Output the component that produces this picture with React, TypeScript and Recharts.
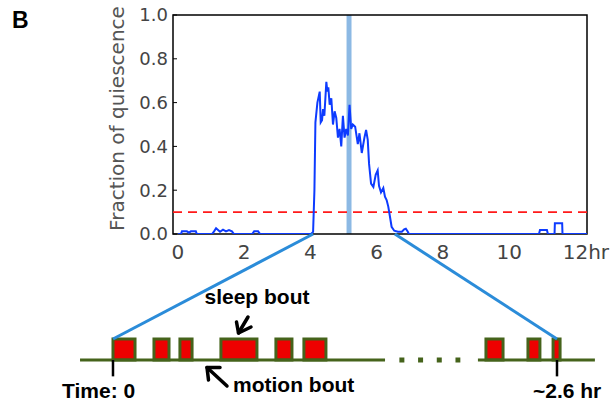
import React from 'react';
import { ComposedChart, Line, XAxis, YAxis, ReferenceArea, ReferenceLine } from 'recharts';

// top panel: fraction of quiescence over 12 hr
const hours = [
  0, 0.09, 0.12, 0.27, 0.33, 0.39, 0.54, 0.57,
  1.03, 1.09, 1.15, 1.21, 1.27, 1.36, 1.45, 1.54, 1.63, 1.69,
  2.24, 2.3, 2.42, 2.48,
  4.02, 4.08, 4.12, 4.15, 4.21, 4.28, 4.31, 4.35, 4.38, 4.42,
  4.48, 4.51, 4.54, 4.58, 4.63, 4.68, 4.73, 4.78, 4.83, 4.88,
  4.93, 4.98, 5.03, 5.08, 5.13, 5.18, 5.23, 5.28, 5.35, 5.43,
  5.48, 5.55, 5.63, 5.68, 5.73, 5.77, 5.83, 5.9, 5.97, 6.03,
  6.07, 6.13, 6.2, 6.25, 6.3, 6.35, 6.4, 6.45, 6.53, 6.64,
  6.76, 6.83, 6.88, 6.94, 6.97,
  10.9, 10.93, 11.14, 11.17, 11.37, 11.38, 11.6, 11.61, 12.35,
];
const fraction = [
  0, 0, 0.012, 0.012, 0.006, 0.012, 0.012, 0,
  0, 0.012, 0.026, 0.018, 0.01, 0.02, 0.012, 0.018, 0.012, 0,
  0, 0.012, 0.012, 0,
  0, 0.01, 0.2, 0.51, 0.6, 0.65, 0.51, 0.52, 0.57, 0.54,
  0.695, 0.65, 0.67, 0.59, 0.62, 0.5, 0.56, 0.53, 0.44, 0.48,
  0.4, 0.54, 0.44, 0.48, 0.45, 0.59, 0.48, 0.5, 0.49, 0.41,
  0.46, 0.37, 0.44, 0.475, 0.43, 0.32, 0.23, 0.215, 0.27, 0.29,
  0.22, 0.19, 0.21, 0.17, 0.155, 0.125, 0.08, 0.033, 0.015, 0.01,
  0.01, 0.021, 0.024, 0.01, 0,
  0, 0.018, 0.018, 0, 0, 0.049, 0.049, 0, 0,
];
const xTicks = [0, 2, 4, 6, 8, 10, 12];
const yTicks = [0, 0.2, 0.4, 0.6, 0.8, 1.0];
const threshold = 0.1;
const marker = [5.09, 5.24];
const zoomWindow = [4.08, 6.55];

// bottom schematic: bouts within the zoomed ~2.6 hr
const boutStart = [0, 0.24, 0.392, 0.632, 0.954, 1.118, 2.184, 2.43, 2.577];
const boutEnd = [0.129, 0.328, 0.463, 0.843, 1.048, 1.247, 2.284, 2.5, 2.618];
const motionSegments = [[-0.193, 1.593], [2.137, 2.822]];
const gapDots = [1.677, 2.034];
const diagramSpan = 2.6;

const series = hours.map((t, i) => ({ t, q: fraction[i] }));

const MAIN_X: [number, number] = [-0.15, 12.35];
const MAIN_Y: [number, number] = [0, 1];
// virtual axes of the schematic, spanning the same pixels as the main axes
const DIAG_X: [number, number] = [0.3514, 2.7757];
const DIAG_Y: [number, number] = [6, 16.43];

const dx = (t: number) =>
  MAIN_X[0] + ((t - DIAG_X[0]) * (MAIN_X[1] - MAIN_X[0])) / (DIAG_X[1] - DIAG_X[0]);
const dy = (l: number) =>
  MAIN_Y[0] + ((l - DIAG_Y[0]) * (MAIN_Y[1] - MAIN_Y[0])) / (DIAG_Y[1] - DIAG_Y[0]);

const GREEN = '#45631b';
const LINK = '#2b8cd9';

const XTick = (props: any) => {
  const { x, y, payload } = props;
  const isLast = payload.value === 12;
  return (
    <text
      x={isLast ? x - 12.7 : x}
      y={y}
      dy={15}
      textAnchor={isLast ? 'start' : 'middle'}
      fill="#444"
      fontSize={20}
      fontFamily="DejaVu Sans"
    >
      {isLast ? '12hr' : payload.value}
    </text>
  );
};

const boldText = { fontFamily: 'Liberation Sans, Arial', fontWeight: 700, fontSize: 21, fill: '#000' };

const App: React.FC = () => {
  return (
    <div style={{ position: 'absolute', left: 0, top: 0, width: 616, height: 407, background: '#fff' }}>
      <ComposedChart width={616} height={407} data={series} margin={{ top: 15, right: 29, bottom: 143, left: 0 }}>
        <XAxis
          dataKey="t"
          type="number"
          domain={MAIN_X}
          allowDataOverflow
          ticks={xTicks}
          tick={<XTick />}
          tickLine={false}
          axisLine={false}
          tickSize={0}
          tickMargin={10}
          height={30}
          interval={0}
        />
        <YAxis
          type="number"
          domain={MAIN_Y}
          allowDataOverflow
          ticks={yTicks}
          interval={0}
          width={173}
          tickFormatter={(v: number) => v.toFixed(1)}
          tick={{ fill: '#444', fontSize: 18, fontFamily: 'DejaVu Sans' }}
          tickSize={-4}
          tickMargin={9}
          tickLine={{ stroke: '#000' }}
          axisLine={false}
        />

        <ReferenceArea x1={marker[0]} x2={marker[1]} fill="#8cb9e4" fillOpacity={1} stroke="none" />
        <ReferenceLine y={threshold} stroke="#ff1a1a" strokeWidth={1.8} strokeDasharray="9 6" />
        <Line
          type="linear"
          dataKey="q"
          stroke="#0d3bff"
          strokeWidth={2}
          dot={false}
          isAnimationActive={false}
        />
        <ReferenceArea
          x1={MAIN_X[0]}
          x2={MAIN_X[1]}
          y1={MAIN_Y[0]}
          y2={MAIN_Y[1]}
          fill="none"
          stroke="#000"
          strokeWidth={1.5}
          ifOverflow="visible"
        />

        {/* zoom links */}
        <ReferenceLine
          segment={[
            { x: zoomWindow[0], y: 0 },
            { x: dx(0), y: dy(1) },
          ]}
          stroke={LINK}
          strokeWidth={3}
          ifOverflow="visible"
        />
        <ReferenceLine
          segment={[
            { x: zoomWindow[1], y: 0 },
            { x: dx(diagramSpan), y: dy(1) },
          ]}
          stroke={LINK}
          strokeWidth={3}
          ifOverflow="visible"
        />

        {/* schematic */}
        {motionSegments.map(([a, b], i) => (
          <ReferenceLine
            key={`m${i}`}
            segment={[{ x: dx(a), y: dy(0) }, { x: dx(b), y: dy(0) }]}
            stroke={GREEN}
            strokeWidth={3}
            ifOverflow="visible"
          />
        ))}
        <ReferenceLine
          segment={[{ x: dx(gapDots[0]), y: dy(0) }, { x: dx(gapDots[1]), y: dy(0) }]}
          stroke={GREEN}
          strokeWidth={5}
          strokeDasharray="5 13.7"
          ifOverflow="visible"
        />
        {boutStart.map((s, i) => (
          <ReferenceArea
            key={`b${i}`}
            x1={dx(s)}
            x2={dx(boutEnd[i])}
            y1={dy(0)}
            y2={dy(1)}
            fill="#ee0000"
            fillOpacity={1}
            stroke={GREEN}
            strokeWidth={3}
            ifOverflow="visible"
          />
        ))}
        {[0, diagramSpan].map((t) => (
          <ReferenceLine
            key={`t${t}`}
            segment={[{ x: dx(t), y: dy(0) }, { x: dx(t), y: dy(-0.78) }]}
            stroke="#000"
            strokeWidth={2.5}
            ifOverflow="visible"
          />
        ))}
      </ComposedChart>

      <svg
        width={616}
        height={407}
        style={{ position: 'absolute', left: 0, top: 0, pointerEvents: 'none' }}
      >
        <text x={12} y={28} {...boldText} fontSize={23}>B</text>
        <text
          x={124}
          y={118.5}
          transform="rotate(-90 124 118.5)"
          textAnchor="middle"
          fontFamily="DejaVu Sans"
          fontSize={20}
          fill="#555"
        >
          Fraction of quiescence
        </text>
        <text x={257} y={304} textAnchor="middle" {...boldText}>sleep bout</text>
        <text x={233} y={392} {...boldText}>motion bout</text>
        <text x={62} y={398} {...boldText}>Time: 0</text>
        <text x={533} y={398} {...boldText}>~2.6 hr</text>
        <g stroke="#000" strokeWidth={3.5} fill="none" strokeLinecap="round" strokeLinejoin="round">
          <line x1={248} y1={317} x2={238.5} y2={333} />
          <polyline points="236.5,322 238.5,333 251,327" />
          <line x1={227} y1={386} x2={207} y2={367.5} />
          <polyline points="208.5,380 207,367.5 220,367.5" />
        </g>
      </svg>
    </div>
  );
};

export default App;
